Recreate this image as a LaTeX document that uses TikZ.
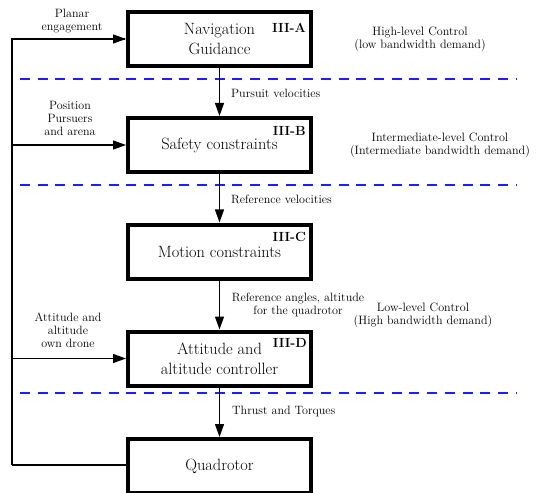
\documentclass[tikz,border=0pt]{standalone}
\usetikzlibrary{arrows.meta}
\definecolor{sepblue}{RGB}{30,30,250}
\tikzset{
  blk/.style={draw, line width=4bp, minimum width=183bp, minimum height=54bp, inner sep=0pt, align=center, font=\fontsize{16.4}{20}\selectfont},
  tag/.style={font=\bfseries\fontsize{13.3}{14}\selectfont, inner sep=0pt},
  lbl/.style={font=\fontsize{12.1}{13}\selectfont, align=center, inner sep=0pt},
  side/.style={font=\fontsize{12.2}{13.5}\selectfont, align=center, inner sep=0pt},
  sep/.style={sepblue, line width=1.5bp, dash pattern=on 10bp off 7.7bp},
  conn/.style={line width=1.2bp, -{Triangle[length=13bp,width=9bp]}},
  fb/.style={line width=1.2bp}
}
\begin{document}
\begin{tikzpicture}[x=1bp,y=-1bp]
\useasboundingbox (0,0) rectangle (540,493);
\clip (0,0) rectangle (540,493);
% separators
\coordinate (s1a) at (20,79);  \coordinate (s1b) at (517,79);
\coordinate (s2a) at (20,185); \coordinate (s2b) at (517,185);
\coordinate (s3a) at (20,393); \coordinate (s3b) at (517,393);
\draw[sep] (s1a) -- (s1b);
\draw[sep] (s2a) -- (s2b);
\draw[sep] (s3a) -- (s3b);
% blocks
\node[blk] (nav)  at (219.5,39)  {Navigation\\Guidance};
\node[blk] (safe) at (219.5,145) {Safety constraints};
\node[blk] (mot)  at (219.5,251.5) {Motion constraints};
\node[blk] (att)  at (219.5,358.5) {Attitude and\\altitude controller};
\node[blk] (quad) at (219.5,466) {Quadrotor};
% tags
\node[tag, anchor=east] (ta) at (306,28)  {III-A};
\node[tag, anchor=east] (tb) at (306,131) {III-B};
\node[tag, anchor=east] (tc) at (306,237) {III-C};
\node[tag, anchor=east] (td) at (307,343) {III-D};
% vertical connectors
\draw[conn] (nav.south) -- (safe.north);
\draw[conn] (safe.south) -- (mot.north);
\draw[conn] (mot.south) -- (att.north);
\draw[conn] (att.south) -- (quad.north);
% connector labels
\node[lbl, anchor=west] (l1) at (231,93)  {Pursuit velocities};
\node[lbl, anchor=west] (l2) at (231,199) {Reference velocities};
\node[lbl] (l3) at (298,304.5) {Reference angles, altitude\\for the quadrotor};
\node[lbl, anchor=west] (l4) at (232,411) {Thrust and Torques};
% feedback
\coordinate (fbc) at (12,465);
\draw[fb] (quad.west |- fbc) -- (fbc);
\draw[fb] (fbc) |- ([xshift=-0.6bp]nav.west);
\draw[conn] (fbc |- nav.west) -- (nav.west);
\draw[conn] (fbc |- safe.west) -- (safe.west);
\draw[conn] (fbc |- att.west) -- (att.west);
% feedback labels
\node[lbl] (f1) at (72,21.5) {Planar\\engagement};
\node[lbl] (f2) at (70,118) {Position\\Pursuers\\and arena};
\node[lbl] (f3) at (68,330) {Attitude and\\altitude\\own drone};
% side labels
\node[side] (h1) at (420,39)  {High-level Control\\(low bandwidth demand)};
\node[side] (h2) at (440,145) {Intermediate-level Control\\(Intermediate bandwidth demand)};
\node[side] (h3) at (423,315) {Low-level Control\\(High bandwidth demand)};
\end{tikzpicture}
\end{document}
